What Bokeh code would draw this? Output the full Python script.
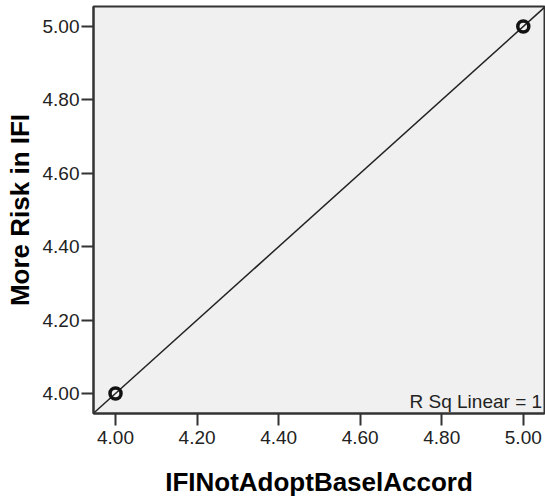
import numpy as np
from bokeh.plotting import figure
from bokeh.models import ColumnDataSource, FixedTicker, NumeralTickFormatter, Range1d
from bokeh.core.properties import value
from bokeh.embed import file_html
from bokeh.resources import INLINE

# data
x_vals = [4.00, 5.00]          # IFINotAdoptBaselAccord
y_vals = [4.00, 5.00]          # More Risk in IFI
tick_vals = [4.00, 4.20, 4.40, 4.60, 4.80, 5.00]
x_label = "IFINotAdoptBaselAccord"
y_label = "More Risk in IFI"

x_lo, x_hi = 3.946, 5.052
y_lo, y_hi = 3.9455, 5.0545

slope, intercept = np.polyfit(x_vals, y_vals, 1)
r2 = np.corrcoef(x_vals, y_vals)[0, 1] ** 2

FONT = "Liberation Sans"
DARK = "#333333"

p = figure(width=545, height=496, output_backend="svg", toolbar_location=None,
           x_range=Range1d(x_lo, x_hi), y_range=Range1d(y_lo, y_hi),
           min_border_left=93, min_border_right=1, min_border_top=6, min_border_bottom=83)
p.frame_width = 451
p.frame_height = 407

p.background_fill_color = "#F0F0F0"
p.border_fill_color = "white"
p.outline_line_color = DARK
p.outline_line_width = 2
p.grid.visible = False

for ax in (p.xaxis, p.yaxis):
    ax.ticker = FixedTicker(ticks=tick_vals)
    ax.formatter = NumeralTickFormatter(format="0.00")
    ax.major_tick_out = 12
    ax.major_tick_in = 0
    ax.minor_tick_line_color = None
    ax.major_tick_line_color = DARK
    ax.major_tick_line_width = 2
    ax.axis_line_color = DARK
    ax.axis_line_width = 2
    ax.major_label_text_font = FONT
    ax.major_label_text_font_size = "19px"
    ax.major_label_text_color = "#222222"
    ax.axis_label_text_font = FONT
    ax.axis_label_text_font_style = "bold"
    ax.axis_label_text_font_size = "26px"
    ax.axis_label_text_color = "#000000"

p.xaxis.axis_label = x_label
p.yaxis.axis_label = y_label
p.xaxis.major_label_standoff = 5
p.yaxis.major_label_standoff = 2
p.xaxis.axis_label_standoff = 20
p.yaxis.axis_label_standoff = 5

# fit line
lx = np.array([x_lo, x_hi])
p.line(lx, slope * lx + intercept, line_color="#222222", line_width=1.5)

# points
p.scatter(x_vals, y_vals, marker="circle", size=11, fill_color=None,
          line_color="#111111", line_width=3.5)

# R squared annotation
src = ColumnDataSource(dict(x=[4.721], y=[3.978], t=[f"R Sq Linear = {r2:.0f}"]))
p.text(x="x", y="y", text="t", source=src, text_font=value(FONT),
       text_font_size="19px", text_color="#222222", text_baseline="alphabetic",
       text_align="left")

open("out.html", "w").write(file_html(p, INLINE))
